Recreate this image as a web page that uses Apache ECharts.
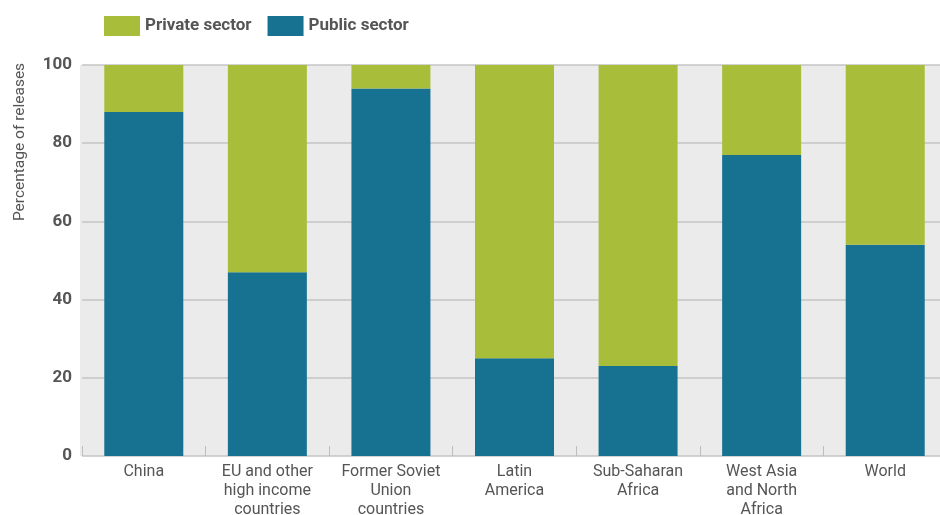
<!DOCTYPE html>
<html>
<head>
<meta charset="utf-8">
<script src="https://cdn.jsdelivr.net/npm/echarts@6/dist/echarts.min.js"></script>
<style>
  html, body { margin: 0; padding: 0; background: #fff; }
  #chart { width: 940px; height: 515px; }
</style>
</head>
<body>
<div id="chart"></div>
<script>
const categories = [
  'China',
  'EU and other\nhigh income\ncountries',
  'Former Soviet\nUnion\ncountries',
  'Latin\nAmerica',
  'Sub-Saharan\nAfrica',
  'West Asia\nand North\nAfrica',
  'World',
];
const publicSector = [88, 47, 94, 25, 23, 77, 54];
const privateSector = [12, 53, 6, 75, 77, 23, 46];
const yTicks = [0, 20, 40, 60, 80, 100];

const FONT = "'Roboto', sans-serif";
const TEXT = '#555555';

const chart = echarts.init(document.getElementById('chart'));
chart.setOption({
  animation: false,
  textStyle: { fontFamily: FONT },
  legend: {
    left: 99,
    top: 11,
    itemWidth: 36,
    itemHeight: 20,
    itemGap: 16,
    icon: 'rect',
    textStyle: { fontFamily: FONT, fontSize: 17, fontWeight: 'bold', color: TEXT },
    data: ['Private sector', 'Public sector'],
  },
  grid: {
    left: 82,
    top: 65,
    right: -7,
    bottom: 59,
    outerBoundsMode: 'none',
    containLabel: false,
    show: true,
    backgroundColor: '#ebebeb',
    borderWidth: 0,
  },
  graphic: [
    {
      type: 'rect',
      left: 80,
      top: 65,
      shape: { width: 2, height: 391 },
      style: { fill: '#ebebeb' },
      silent: true,
    },
    {
      type: 'text',
      x: 20,
      y: 142,
      rotation: Math.PI / 2,
      style: {
        text: 'Percentage of releases',
        font: "15.5px 'Roboto', sans-serif",
        fill: TEXT,
        align: 'center',
        verticalAlign: 'middle',
      },
    },
  ],
  xAxis: {
    type: 'category',
    data: categories,
    axisLine: { show: false },
    axisTick: { show: true, inside: true, length: 10, lineStyle: { color: '#bdbdbd' } },
    axisLabel: {
      fontFamily: FONT,
      fontSize: 16,
      color: TEXT,
      lineHeight: 19,
      margin: 6,
      interval: 0,
    },
  },
  yAxis: {
    type: 'value',
    min: 0,
    max: 100,
    interval: 20,
    axisLine: { show: false },
    axisTick: { show: false },
    axisLabel: {
      fontFamily: FONT,
      fontSize: 17,
      fontWeight: 'bold',
      color: TEXT,
      margin: 10,
      formatter: (v) => (yTicks.includes(v) ? String(v) : ''),
    },
    splitLine: { lineStyle: { color: '#c4c4c4', width: 1.5 } },
  },
  series: [
    {
      name: 'Public sector',
      type: 'bar',
      stack: 'total',
      barWidth: 79,
      data: publicSector,
      itemStyle: { color: '#177291' },
    },
    {
      name: 'Private sector',
      type: 'bar',
      stack: 'total',
      barWidth: 79,
      data: privateSector,
      itemStyle: { color: '#a8bd3a' },
    },
  ],
});
</script>
</body>
</html>
